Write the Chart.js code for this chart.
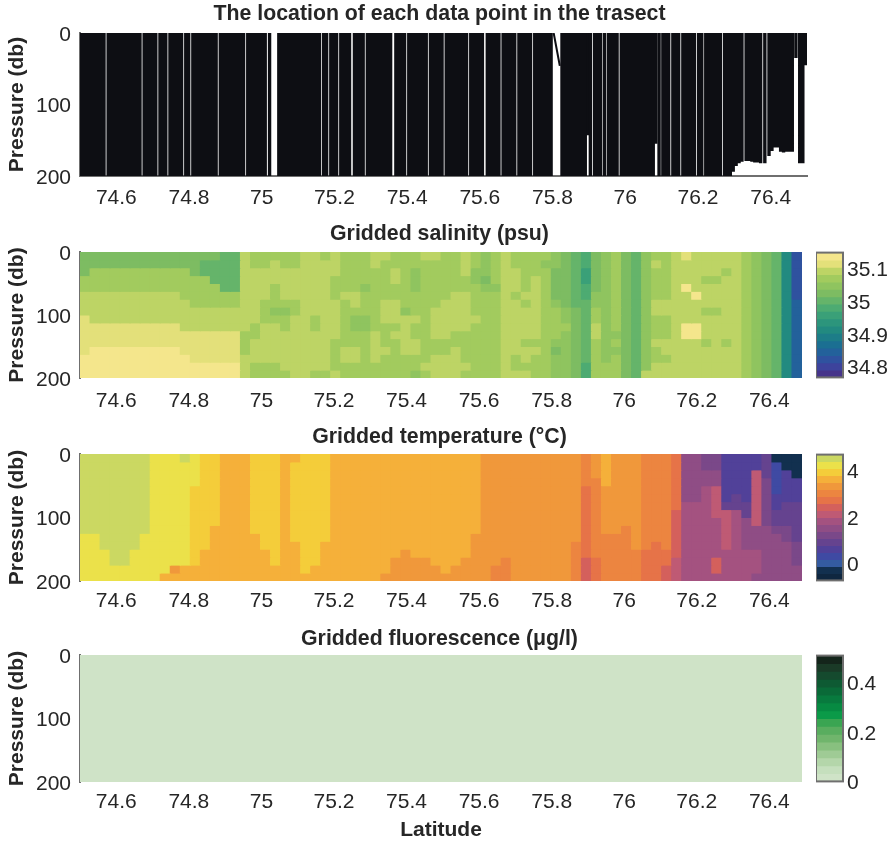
<!DOCTYPE html>
<html>
<head>
<meta charset="utf-8">
<title>Transect</title>
<script src="https://cdn.jsdelivr.net/npm/chart.js@4"></script>
<style>
  html, body { margin: 0; background: #fff; }
  #page { position: relative; width: 893px; height: 845px; overflow: hidden; }
  canvas { position: absolute; }
</style>
</head>
<body>
<div id="page"></div>
<script>
const latTicks = [74.6, 74.8, 75, 75.2, 75.4, 75.6, 75.8, 76, 76.2, 76.4];
const pressureTicks = [0, 100, 200];
const gridDepths = [0, 12.5, 25, 37.5, 50, 62.5, 75, 87.5, 100, 112.5, 125, 137.5, 150, 162.5, 175, 187.5, 200];

// casts that reach 200 db
const fullCastLat = [
  74.502, 74.510, 74.518, 74.526, 74.534, 74.542, 74.550, 74.558, 74.566, 74.5775,
  74.585, 74.593, 74.601, 74.609, 74.617, 74.625, 74.633, 74.641, 74.649, 74.657,
  74.665, 74.6765, 74.6845, 74.6925, 74.7005, 74.7085, 74.720, 74.728, 74.736, 74.7475,
  74.7555, 74.7635, 74.7715, 74.7795, 74.791, 74.799, 74.8105, 74.8185, 74.8265, 74.8345,
  74.8425, 74.8505, 74.8585, 74.8665, 74.8745, 74.886, 74.894, 74.902, 74.910, 74.918,
  74.926, 74.934, 74.942, 74.950, 74.9615, 74.9695, 74.9775, 74.9855, 74.9935, 75.0015,
  75.0095, 75.0215, 75.047, 75.055, 75.063, 75.071, 75.079, 75.087, 75.095, 75.103,
  75.111, 75.119, 75.127, 75.135, 75.143, 75.151, 75.159, 75.1705, 75.1785, 75.190,
  75.198, 75.206, 75.2175, 75.2255, 75.2335, 75.2415, 75.255, 75.263, 75.271, 75.279,
  75.2905, 75.2985, 75.3065, 75.3145, 75.3225, 75.3305, 75.3385, 75.3465, 75.3545, 75.369,
  75.377, 75.385, 75.393, 75.4045, 75.4125, 75.4205, 75.4285, 75.4365, 75.4445, 75.4525,
  75.464, 75.472, 75.480, 75.488, 75.496, 75.5075, 75.5155, 75.5235, 75.5315, 75.5395,
  75.5475, 75.5555, 75.5635, 75.575, 75.583, 75.591, 75.599, 75.607, 75.6205, 75.6285,
  75.6365, 75.6445, 75.6525, 75.664, 75.672, 75.680, 75.688, 75.696, 75.7075, 75.7155,
  75.7235, 75.7315, 75.7395, 75.751, 75.759, 75.767, 75.775, 75.783, 75.791, 75.796,
  75.826, 75.834, 75.842, 75.850, 75.858, 75.866, 75.874, 75.882, 75.890, 75.904,
  75.9155, 75.9235, 75.9315, 75.9425, 75.9535, 75.9615, 75.9695, 75.9775, 75.989, 75.997,
  76.005, 76.013, 76.021, 76.029, 76.037, 76.045, 76.053, 76.061, 76.069, 76.077,
  76.093, 76.1035, 76.1115, 76.1195, 76.131, 76.139, 76.147, 76.1585, 76.1665, 76.1745,
  76.1825, 76.1905, 76.202, 76.2105, 76.2215, 76.2295, 76.2375, 76.2455, 76.2535, 76.2615,
  76.273, 76.281, 76.289
];

// casts that stop before 200 db
const shortCastLat = [75.897, 76.084, 76.297, 76.305, 76.313, 76.321, 76.3325, 76.3405, 76.3485, 76.3565, 76.3645, 76.3725, 76.384, 76.3955, 76.4035, 76.4115, 76.4195, 76.4275, 76.4355, 76.4435, 76.4515, 76.4595, 76.4695, 76.480, 76.4885, 76.4965];
const shortCastDepth = [143, 155, 194, 186, 182, 180, 179, 179, 180, 181, 181, 182, 182, 172, 165, 160, 160, 166, 167, 166, 166, 166, 35, 182, 182, 45];

// the ship's drift at 75.8
const driftLat = [75.803, 75.820];
const driftDepth = [0, 46];

const salinityTicks = [34.8, 34.9, 35, 35.1];
const salinityRange = [34.767, 35.148];
const salinityColors = ['#f4e68c', '#e3e07a', '#bdd465', '#a2cb5e', '#8fc45f', '#7dbc62', '#65b46a', '#4dab72', '#3aa078', '#2c957c', '#228a80', '#1d7d88', '#1b6f92', '#23619b', '#2f529f', '#3d439c', '#46348a'];

// one string per depth row, one letter per latitude cell, letter = colour bar band (a is the top band)
const salinityRows = [
  'ffffffffffffffgg cddddd ccdcdddccdddccddcdedcddddefghf edfgeddcbcccccdefgko',
  'ffffffffffffgggg cddcdd ccccdddcddddddddcdedcdddeefghf edfgecdcccccccdefgko',
  'fddddddddddfgggg cccccc ccccdddddcdeddddceedccdddffgif edfgeddcccccdcdefgko',
  'dddddddddddddggg cccccc cccddddddcdedddddefdccdcdffgif edfgeddcccddccdefgko',
  'ddddddddddddddgg cccdcc cccdddeddddeddddddeeccdcdffghf edfgeddcacccccdefgko',
  'ccccccccccdddddd cccdcc cccdccdddddddddccdddcdccdffghe edfgeddccaccccdefgko',
  'cccccccccccddddd ccdddd ccccdcddccddddcccdddccdcdefgge edfgecccccccccdefgkn',
  'cccccccccccccccc ccdeed ccccddddcceddccccdddccccddefgd edfgecccccddccdefgkn',
  'bccccccccccccccc ccdddc cdccdeedccccdcccccddccccddefgd edfgeddcccccccdefgkn',
  'bbbbbbbbbbcccccc cdccdc cdccdeedddcddccccdddccccdddfgc edfgeddcaaccccdefgkn',
  'bbbbbbbbbbbbbbbb ddcccc ccccdddcdccddccdddddccccddefgc eefgeddcaaccccdefgkn',
  'bbbbbbbbbbbbbbbb dccccc cccddddcddccddddddddccdddeefgd edfgecccccdcdcdefgkn',
  'baaaaaaaaabbbbbb dccccc cccdccdccdccdddcddddccccdfefgd eefgedccccccccdefgkn',
  'aaaaaaaaaaabbbbb cccccc cccdccdcdddddcccddddcdcddeefgd edfgeddcccccccdefgkn',
  'aaaaaaaaaaaaaaaa cdddcc cccdddddddddcccccdddcddddeefhd ddfgecccccccccdefgkn',
  'aaaaaaaaaaaaaaaa cddddc cddcdddddddedcccddddcccddeefhd ddfgccccccccccdefgkn'
];

const temperatureTicks = [0, 2, 4];
const temperatureRange = [-0.72, 4.68];
const temperatureColors = ['#cbd862', '#ebe14a', '#f4cd3a', '#f5b03a', '#f0983b', '#ec8540', '#e67348', '#d4605c', '#bf5a74', '#a45280', '#8f4d85', '#7a4889', '#65438f', '#514199', '#3f4aa3', '#345ba0', '#12304f', '#0f2740'];

const temperatureRows = [
  'aaaaaaabbbabccdddcccdd cccdddddddddddddddeeeeeeeeeefe deeefffgkkllnnnnmqqq',
  'aaaaaaabbbbbccdddcccdc cccdddddddddddddddeeeeeeeeeefe deeefffgkkllnnnnmoqq',
  'aaaaaaabbbbbccdddcccdc cccdddddddddddddddeeeeeeeeeefe deeefffgkkkknnnimonq',
  'aaaaaaabbbbbccdddcccdc cccdddddddddddddddeeeeeeeeeeff deeefffgkkkknnnilonn',
  'aaaaaaabbbbcccdddcccdc cccdddddddddddddddeeeeeeeeeegf eeeefffgkkjinnnilonn',
  'aaaaaaabbbbcccdddcccdc cccdddddddddddddddeeeeeeeeeegf eeeefffgkkjinmnilnnn',
  'aaaaaaabbbbcccdddcccdc cccdddddddddddddddeeeeeeeeeegf eeeefffgjjjimmmilnmm',
  'aaaaaaabbbbcccdddcccdc cccdddddddddddddddeeeeeeeeeegf eeeefffhjjjiijmilmmm',
  'aaaaaaabbbbcccdddcccdc cccdddddddddddddddeeeeeeeeeegf eeeefffhjjjjijkilmmm',
  'aaaaaaabbbbccddddcccdc cccdddddddddddddddeeeeeeeeeegf eefefffhjjjjijkkkllm',
  'bbaaaabbbbbccdddddccdc cccddddddddddddddeeeeeeeeeeegf fffefffhjjjjijkkkklm',
  'bbaaaabbbbbccdddddccdd ccdddddddddddddddeeeeeeeeeefgf fffefgfhjjjjijkkkkkl',
  'bbbaabbbbbbcdddddddcdd ccddddddddeddddddeeeeeeeeeefgf ffffggghjjjjjjjjkkkl',
  'bbbaabbbbbbcdddddddcdd ccdddddddeeeedddeeeefeeeeeefhg ffffgggijjjhjjjjkkkl',
  'bbbbbbbbbedddddddddddd cddddddddeeeeedeeeeffeeeeeefhg ffffgghijjjhjjjjkkkk',
  'bbbbbbbbdddddddddddddd ddddddddeeeeeeeeeeeffeeeeeefhg ffffgghijjjjjjjkkkkk'
];

const fluorTicks = [0, 0.2, 0.4];
const fluorRange = [0, 0.508];
const fluorColors = ['#14251b', '#1a3a27', '#154a2e', '#0e5a33', '#0a6a38', '#087a3e', '#078a42', '#0b9a48', '#3aa552', '#59ad5f', '#70b56c', '#88c07f', '#9fcb95', '#b4d6aa', '#c5dfbd', '#cfe3c7'];
const fluorRows = ['pppppppppppppppp'];
const fluorDepths = [0, 200];

const FONT = '"Liberation Sans", Arial, Helvetica, sans-serif';
const INK = '#262626';
const AXIS = '#6f6f6f';
const page = document.getElementById('page');

function addCanvas(left, top, width, height) {
  const c = document.createElement('canvas');
  c.width = width;
  c.height = height;
  c.style.left = left + 'px';
  c.style.top = top + 'px';
  c.style.width = width + 'px';
  c.style.height = height + 'px';
  page.appendChild(c);
  return c;
}

// each depth row becomes one dataset of floating bars
function heatDatasets(rows, depths, colors, latMin, latMax) {
  return rows.map((row, r) => {
    const cells = row.replace(/ /g, '');
    const step = (latMax - latMin) / cells.length;
    const data = [];
    const fill = [];
    for (let i = 0; i < cells.length; i++) {
      data.push({ x: latMin + (i + 0.5) * step, y: [depths[r], depths[r + 1]] });
      fill.push(colors[cells.charCodeAt(i) - 97]);
    }
    return { type: 'bar', data, backgroundColor: fill, borderWidth: 0, grouped: false, barPercentage: 1, categoryPercentage: 1, inflateAmount: 0.5 };
  });
}

function castLine(lats, depths) {
  const pts = [];
  lats.forEach((lat, i) => {
    pts.push({ x: lat, y: 0 }, { x: lat, y: depths ? depths[i] : 200 }, { x: NaN, y: NaN });
  });
  return pts;
}

function panel(cfg) {
  const height = 20 + cfg.titleGap + cfg.plotH + cfg.xHeight;
  const canvas = addCanvas(0, cfg.top, 893, height);
  return new Chart(canvas.getContext('2d'), {
    type: 'bar',
    data: { datasets: cfg.datasets },
    options: {
      responsive: false,
      animation: false,
      devicePixelRatio: 1,
      layout: { padding: { left: 0, top: 0, bottom: 0, right: 893 - cfg.right } },
      plugins: {
        legend: { display: false },
        tooltip: { enabled: false },
        title: {
          display: true,
          text: cfg.title,
          fullSize: false,
          color: INK,
          font: { family: FONT, size: 21.3, weight: 'bold', lineHeight: '20px' },
          padding: { top: 0, bottom: cfg.titleGap }
        }
      },
      scales: {
        x: {
          type: 'linear',
          offset: false,
          min: 74.5,
          max: cfg.latMax,
          grid: { display: false, drawTicks: false },
          border: { display: cfg.bottomLine, color: AXIS, width: 2 },
          afterBuildTicks: s => { s.ticks = latTicks.map(v => ({ value: v })); },
          afterFit: s => { s.height = cfg.xHeight; },
          ticks: {
            autoSkip: false,
            maxRotation: 0,
            padding: cfg.xPad,
            color: INK,
            font: { family: FONT, size: 21 },
            callback: v => String(v)
          },
          title: {
            display: !!cfg.xTitle,
            text: cfg.xTitle || '',
            color: INK,
            font: { family: FONT, size: 21, weight: 'bold', lineHeight: '20px' },
            padding: { top: 6, bottom: 4 }
          }
        },
        y: {
          type: 'linear',
          reverse: true,
          min: 0,
          max: 200,
          grid: { display: false, drawTicks: false },
          border: { display: true, color: AXIS, width: 2 },
          afterBuildTicks: s => { s.ticks = pressureTicks.map(v => ({ value: v })); },
          afterFit: s => { s.width = 80; },
          ticks: {
            padding: 9,
            labelOffset: 2,
            color: INK,
            font: { family: FONT, size: 21 },
            callback: v => String(v)
          },
          title: {
            display: true,
            text: 'Pressure (db)',
            color: INK,
            font: { family: FONT, size: 21, weight: 'bold', lineHeight: '20px' },
            padding: { top: 7, bottom: 0 }
          }
        }
      }
    },
    plugins: [{
      id: 'titleShift',
      afterLayout(chart) {
        chart.titleBlock.left += cfg.titleShift;
        chart.titleBlock.right += cfg.titleShift;
      }
    }]
  });
}

const colorFrame = {
  id: 'colorFrame',
  afterDraw(chart) {
    const a = chart.chartArea;
    const ctx = chart.ctx;
    ctx.save();
    ctx.strokeStyle = AXIS;
    ctx.lineWidth = 2;
    ctx.strokeRect(a.left, a.top, a.right - a.left, a.bottom - a.top);
    ctx.restore();
  }
};

function colorBar(top, plotH, colors, range, ticks) {
  const pad = 16;
  const canvas = addCanvas(816, top - pad, 77, plotH + pad * 2);
  const band = (range[1] - range[0]) / colors.length;
  const datasets = colors.map((col, i) => ({
    data: [[range[1] - (i + 1) * band, range[1] - i * band]],
    backgroundColor: col,
    borderWidth: 0,
    grouped: false,
    barPercentage: 1,
    categoryPercentage: 1,
    inflateAmount: 0.5
  }));
  return new Chart(canvas.getContext('2d'), {
    type: 'bar',
    data: { labels: [''], datasets },
    options: {
      responsive: false,
      animation: false,
      devicePixelRatio: 1,
      layout: { padding: { top: pad, bottom: pad, left: 0, right: 0 } },
      plugins: { legend: { display: false }, tooltip: { enabled: false } },
      scales: {
        x: { display: false },
        y: {
          position: 'right',
          min: range[0],
          max: range[1],
          grid: { display: false, drawTicks: false },
          border: { display: false },
          afterBuildTicks: s => { s.ticks = ticks.map(v => ({ value: v })); },
          afterFit: s => { s.width = 50; },
          ticks: { padding: 4, labelOffset: 2, color: INK, font: { family: FONT, size: 21 }, callback: v => String(v) }
        }
      }
    },
    plugins: [colorFrame]
  });
}

panel({
  top: 4, titleGap: 9, plotH: 143, xHeight: 36, xPad: 10, right: 807, latMax: 76.5, bottomLine: true, titleShift: -4,
  title: 'The location of each data point in the trasect',
  datasets: [
    { type: 'scatter', showLine: true, data: castLine(fullCastLat), borderColor: '#0d0e13', borderWidth: 3.4, pointRadius: 0, borderCapStyle: 'butt' },
    { type: 'scatter', showLine: true, data: castLine(shortCastLat, shortCastDepth), borderColor: '#0d0e13', borderWidth: 3.4, pointRadius: 0, borderCapStyle: 'butt' },
    { type: 'scatter', showLine: true, data: driftLat.map((lat, i) => ({ x: lat, y: driftDepth[i] })), borderColor: '#0d0e13', borderWidth: 2, pointRadius: 0 }
  ]
});

panel({
  top: 224, titleGap: 8, plotH: 126, xHeight: 36, xPad: 11, right: 802, latMax: 76.49, bottomLine: false, titleShift: -1.5,
  title: 'Gridded salinity (psu)',
  datasets: heatDatasets(salinityRows, gridDepths, salinityColors, 74.5, 76.49)
});
colorBar(252, 126, salinityColors, salinityRange, salinityTicks);

panel({
  top: 427, titleGap: 7, plotH: 127, xHeight: 36, xPad: 8, right: 802, latMax: 76.49, bottomLine: false, titleShift: -1.5,
  title: 'Gridded temperature (°C)',
  datasets: heatDatasets(temperatureRows, gridDepths, temperatureColors, 74.5, 76.49)
});
colorBar(454, 127, temperatureColors, temperatureRange, temperatureTicks);

panel({
  top: 629, titleGap: 6, plotH: 127, xHeight: 62, xPad: 8, right: 802, latMax: 76.49, bottomLine: false, titleShift: -1.5,
  title: 'Gridded fluorescence (μg/l)',
  xTitle: 'Latitude',
  datasets: heatDatasets(fluorRows, fluorDepths, fluorColors, 74.5, 76.49)
});
colorBar(655, 127, fluorColors, fluorRange, fluorTicks);
</script>
</body>
</html>
